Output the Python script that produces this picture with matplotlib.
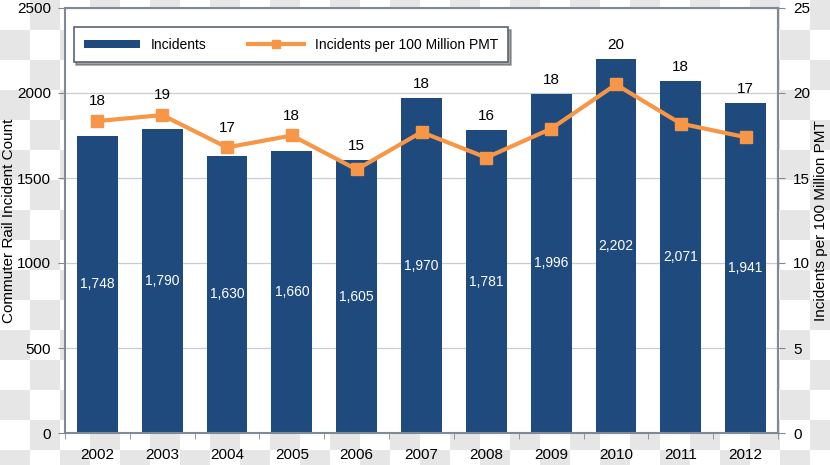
import matplotlib
matplotlib.use('Agg')
import matplotlib.pyplot as plt
import numpy as np

years = ['2002', '2003', '2004', '2005', '2006', '2007', '2008', '2009', '2010', '2011', '2012']
incidents = [1748, 1790, 1630, 1660, 1605, 1970, 1781, 1996, 2202, 2071, 1941]
rate = [18.35, 18.7, 16.8, 17.5, 15.5, 17.7, 16.2, 17.9, 20.5, 18.2, 17.4]
rate_labels = ['18', '19', '17', '18', '15', '18', '16', '18', '20', '18', '17']

bar_color = '#1f4a7e'
line_color = '#f79646'
axis_color = '#7f8a96'

plt.rcParams['font.family'] = ['Liberation Sans', 'DejaVu Sans']

fig = plt.figure(figsize=(8.3, 4.65), dpi=100)

# checkerboard backdrop
sq = 30
h, w = 465, 830
yy, xx = np.mgrid[0:h, 0:w]
board = np.where(((xx // sq) + (yy // sq)) % 2 == 0, 1.0, 0.9)
fig.figimage(board, cmap='gray', vmin=0, vmax=1, zorder=-10)

ax = fig.add_axes([65 / 830, 1 - 433 / 465, (778 - 65) / 830, (433 - 8) / 465])
ax.set_facecolor('white')
x = np.arange(len(years))
ax.bar(x, incidents, width=0.63, color=bar_color, zorder=2, label='Incidents')
ax.set_ylim(0, 2500)
ax.set_xlim(-0.5, len(years) - 0.5)
ax.set_yticks(range(0, 2501, 500))
ax.grid(axis='y', color='#c8cdd3', linewidth=0.9, zorder=0)
ax.set_xticks(x)
ax.set_xticklabels(years)
ax.set_xticks(np.arange(-0.5, len(years), 1), minor=True)
ax.tick_params(axis='x', which='major', length=0, labelsize=11, pad=11)
ax.tick_params(axis='x', which='minor', length=4, color=axis_color)
ax.tick_params(axis='y', length=5, color=axis_color, labelsize=11, pad=5)
for side in ['left', 'right', 'bottom', 'top']:
    ax.spines[side].set_color(axis_color)
    ax.spines[side].set_linewidth(1.5)
ax.set_ylabel('Commuter Rail Incident Count', fontsize=11)
ax.yaxis.set_label_coords(-0.069, 0.5)

for xi, v in zip(x, incidents):
    ax.text(xi, v / 2, f'{v:,}', ha='center', va='center', color='white', fontsize=10, zorder=4)

ax2 = ax.twinx()
ax2.plot(x, rate, color=line_color, linewidth=3, marker='s', markersize=9, zorder=5,
         label='Incidents per 100 Million PMT')
ax2.set_ylim(0, 25)
ax2.set_yticks(range(0, 26, 5))
ax2.tick_params(axis='y', length=5, color=axis_color, labelsize=11, pad=6)
ax2.spines['right'].set_color(axis_color)
ax2.spines['right'].set_linewidth(1.5)
for side in ['left', 'top', 'bottom']:
    ax2.spines[side].set_visible(False)
ax2.set_ylabel('Incidents per 100 Million PMT', fontsize=11, rotation=90)
ax2.yaxis.set_label_coords(1.05, 0.5)

for xi, r, lab, v in zip(x, rate, rate_labels, incidents):
    top = max(r + 0.75, v / 100.0 + 0.4)
    ax2.text(xi, top, lab, ha='center', va='bottom', fontsize=11, color='black')

h1, l1 = ax.get_legend_handles_labels()
h2, l2 = ax2.get_legend_handles_labels()
leg = ax2.legend(h1 + h2, l1 + l2, ncol=2, loc='upper left', bbox_to_anchor=(0.012, 0.955),
                 frameon=True, fancybox=False, shadow=True, fontsize=10,
                 borderpad=0.75, columnspacing=3.0, handlelength=4.0,
                 markerscale=0.6, handleheight=0.5, borderaxespad=0)
leg.get_frame().set_edgecolor('#5a6470')
leg.get_frame().set_linewidth(1.2)

fig.savefig('out.png', dpi=100)
